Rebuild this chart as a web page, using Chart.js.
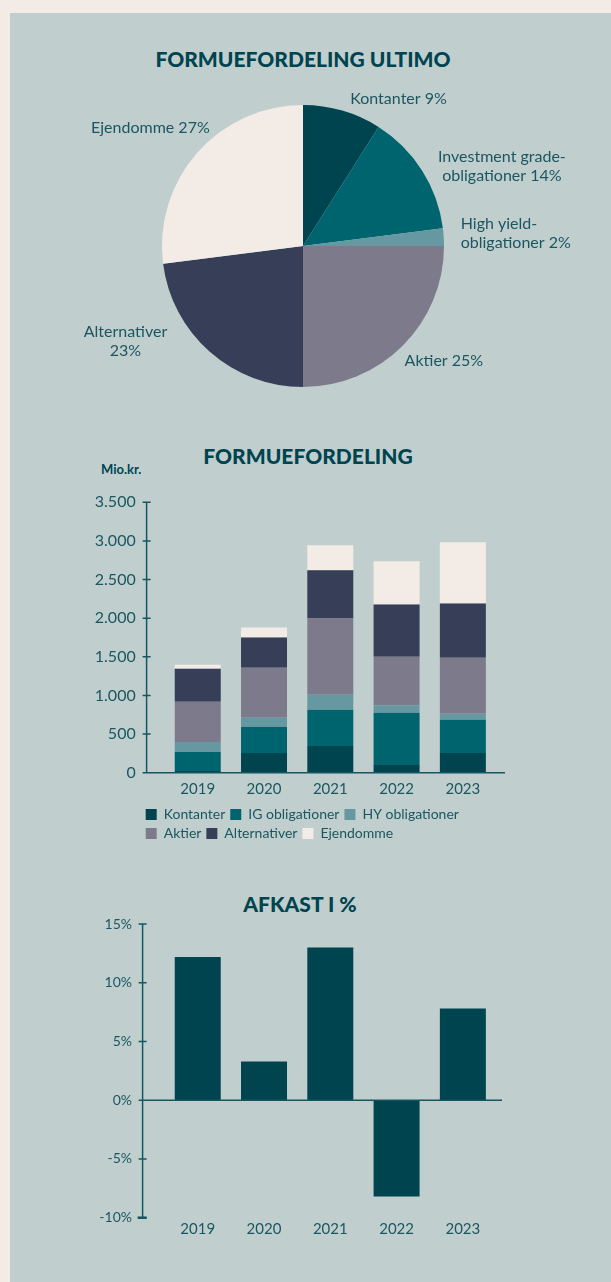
<!DOCTYPE html>
<html lang="da">
<head>
<meta charset="utf-8">
<title>Formuefordeling</title>
<script src="https://cdn.jsdelivr.net/npm/chart.js@4.4.1/dist/chart.umd.min.js"></script>
<style>
  body {
    margin: 0;
    width: 611px;
    height: 1282px;
    overflow: hidden;
    position: relative;
    background: #f3ece6;
    font-family: Lato, sans-serif;
  }
  #panel {
    position: absolute;
    left: 10px;
    top: 13px;
    right: 0;
    bottom: 0;
    background: #c0cfce;
  }
  canvas {
    position: absolute;
    left: 10px;
  }
  .titel {
    position: absolute;
    width: 400px;
    height: 24px;
    line-height: 24px;
    text-align: center;
    color: #004450;
    font-weight: 900;
    font-size: 21px;
  }
  .enhed {
    position: absolute;
    left: 101px;
    top: 461px;
    height: 16px;
    line-height: 16px;
    color: #004450;
    font-weight: 700;
    font-size: 13px;
  }
</style>
</head>
<body>
<div id="panel"></div>

<div class="titel" style="left:103px; top:47px;">FORMUEFORDELING ULTIMO</div>
<canvas id="grafico1" width="601" height="340" style="top:80px;"></canvas>

<div class="titel" style="left:108px; top:444px;">FORMUEFORDELING</div>
<div class="enhed">Mio.kr.</div>
<canvas id="grafico2" width="601" height="380" style="top:480px;"></canvas>

<div class="titel" style="left:100px; top:892px;">AFKAST I %</div>
<canvas id="grafico3" width="601" height="400" style="top:880px;"></canvas>

<script>
// data
const pieLinjer = [
  ["Kontanter"],
  ["Investment grade-", "obligationer"],
  ["High yield-", "obligationer"],
  ["Aktier"],
  ["Alternativer", ""],
  ["Ejendomme"],
];
const pieAndele = [9, 14, 2, 25, 23, 27];

const aar = ["2019", "2020", "2021", "2022", "2023"];
const kontanter = [22, 255, 346, 100, 255];
const igObligationer = [246, 338, 468, 675, 429];
const hyObligationer = [130, 117, 195, 99, 78];
const aktier = [520, 649, 987, 628, 727];
const alternativer = [428, 390, 623, 675, 701];
const ejendomme = [52, 130, 325, 559, 793];
const serieNavne = ["Kontanter", "IG obligationer", "HY obligationer", "Aktier", "Alternativer", "Ejendomme"];

const formueMax = 3500;
const formueStep = 500;

const afkast = [12.2, 3.3, 13.0, -8.2, 7.8];
const afkastMin = -10;
const afkastMax = 15;
const afkastStep = 5;

// farver
const farver = ["#004450", "#00646e", "#6698a2", "#7d7b8b", "#363f57", "#f3ece6"];
const tekstFarve = "#1b5660";
const akseFarve = "#155660";

// etiketter rundt om lagkagen: placering i forhold til midten af hvert stykke
const etiketPlacering = [
  { align: "left", dx: 4, dy: 2 },
  { align: "center", dx: 68, dy: 3 },
  { align: "left", dx: 3, dy: -3 },
  { align: "left", dx: -8, dy: 5 },
  { align: "center", dx: -75, dy: -21 },
  { align: "right", dx: 23, dy: -16 },
];

const pieEtiketter = {
  id: "pieEtiketter",
  afterDraw(chart) {
    const ctx = chart.ctx;
    const meta = chart.getDatasetMeta(0);
    ctx.save();
    ctx.font = "16px Lato";
    ctx.fillStyle = tekstFarve;
    ctx.textBaseline = "middle";
    meta.data.forEach(function (arc, i) {
      const p = arc.getProps(["x", "y", "startAngle", "endAngle", "outerRadius"]);
      const mid = (p.startAngle + p.endAngle) / 2;
      const r = p.outerRadius + 14;
      const pos = etiketPlacering[i];
      const ax = p.x + Math.cos(mid) * r + pos.dx;
      const ay = p.y + Math.sin(mid) * r + pos.dy;
      const linjer = pieLinjer[i].slice();
      const sidste = linjer.length - 1;
      linjer[sidste] = (linjer[sidste] + " " + pieAndele[i] + "%").trim();
      ctx.textAlign = pos.align;
      linjer.forEach(function (l, j) {
        ctx.fillText(l, ax, ay + (j - sidste / 2) * 19);
      });
    });
    ctx.restore();
  },
};

// akser og y-etiketter tegnes selv, lidt til venstre for første søjle
const akserPlugin = {
  id: "akser",
  afterDatasetsDraw(chart, args, opts) {
    const ctx = chart.ctx;
    const y = chart.scales.y;
    const area = chart.chartArea;
    const ax = area.left - opts.gap;
    const y0 = y.getPixelForValue(0);
    const yBund = y.getPixelForValue(y.min);
    ctx.save();
    ctx.strokeStyle = akseFarve;
    ctx.lineWidth = 1.5;
    ctx.beginPath();
    ctx.moveTo(ax, y.getPixelForValue(y.max));
    ctx.lineTo(ax, yBund);
    y.ticks.forEach(function (t) {
      const ty = y.getPixelForValue(t.value);
      ctx.moveTo(ax - 4, ty);
      ctx.lineTo(ax + 4, ty);
    });
    ctx.moveTo(ax - 4, y0);
    ctx.lineTo(area.right + opts.extra, y0);
    ctx.stroke();
    if (opts.bundKant) {
      ctx.lineWidth = 2.5;
      ctx.beginPath();
      ctx.moveTo(ax - 5, yBund);
      ctx.lineTo(ax + 4, yBund);
      ctx.stroke();
    }

    ctx.fillStyle = tekstFarve;
    ctx.font = opts.fontSize + "px Lato";
    ctx.textAlign = "right";
    ctx.textBaseline = "middle";
    y.ticks.forEach(function (t) {
      ctx.fillText(opts.format(t.value), area.left - opts.labelGap, y.getPixelForValue(t.value));
    });
    ctx.restore();
  },
};

function tusind(v) {
  return String(v).replace(/\B(?=(\d{3})+(?!\d))/g, ".");
}

function procent(v) {
  return v + "%";
}

function fastY(bredde) {
  return function (s) {
    s.width = bredde;
    s.paddingTop = 0;
    s.paddingBottom = 0;
  };
}

function fastX(hoejde) {
  return function (s) {
    s.height = hoejde;
    s.paddingLeft = 0;
    s.paddingRight = 0;
  };
}

function lagkage() {
  new Chart(document.getElementById("grafico1"), {
    type: "pie",
    data: {
      labels: pieLinjer.map(function (l) { return l.join(" "); }),
      datasets: [
        {
          data: pieAndele,
          backgroundColor: farver,
          borderWidth: 0,
        },
      ],
    },
    options: {
      responsive: false,
      animation: false,
      layout: { padding: { left: 152, right: 167, top: 25, bottom: 33 } },
      plugins: {
        legend: { display: false },
        tooltip: { enabled: false },
      },
    },
    plugins: [pieEtiketter],
  });
}

function formuefordeling() {
  const serier = [kontanter, igObligationer, hyObligationer, aktier, alternativer, ejendomme];
  const datasets = serier.map(function (d, i) {
    return {
      label: serieNavne[i],
      data: d,
      backgroundColor: farver[i],
      borderWidth: 0,
      barPercentage: 0.694,
      categoryPercentage: 1,
    };
  });

  new Chart(document.getElementById("grafico2"), {
    type: "bar",
    data: { labels: aar, datasets: datasets },
    options: {
      responsive: false,
      animation: false,
      layout: { padding: { left: 130.7, right: 115, top: 22.3, bottom: 9.5 } },
      scales: {
        x: {
          stacked: true,
          grid: { display: false, drawTicks: false },
          border: { display: false },
          ticks: { color: tekstFarve, font: { family: "Lato", size: 15 }, padding: 7 },
          afterFit: fastX(29.8),
        },
        y: {
          stacked: true,
          min: 0,
          max: formueMax,
          grid: { display: false, drawTicks: false },
          border: { display: false },
          ticks: { stepSize: formueStep, display: false },
          afterFit: fastY(23.9),
        },
      },
      plugins: {
        legend: {
          position: "bottom",
          align: "start",
          labels: {
            boxWidth: 11,
            boxHeight: 11,
            padding: 5,
            color: tekstFarve,
            font: { family: "Lato", size: 14 },
          },
        },
        tooltip: { enabled: false },
        akser: { gap: 18, extra: 9, bundKant: false, labelGap: 28.9, fontSize: 16, format: tusind },
      },
    },
    plugins: [akserPlugin],
  });
}

function afkastGraf() {
  new Chart(document.getElementById("grafico3"), {
    type: "bar",
    data: {
      labels: aar,
      datasets: [
        {
          label: "Afkast",
          data: afkast,
          backgroundColor: farver[0],
          borderWidth: 0,
          barPercentage: 0.694,
          categoryPercentage: 1,
        },
      ],
    },
    options: {
      responsive: false,
      animation: false,
      layout: { padding: { left: 100, right: 115, top: 44, bottom: 10 } },
      scales: {
        x: {
          grid: { display: false, drawTicks: false },
          border: { display: false },
          ticks: { color: tekstFarve, font: { family: "Lato", size: 15 }, padding: 2 },
          afterFit: fastX(52.3),
        },
        y: {
          min: afkastMin,
          max: afkastMax,
          grid: { display: false, drawTicks: false },
          border: { display: false },
          ticks: { stepSize: afkastStep, display: false },
          afterFit: fastY(54.6),
        },
      },
      plugins: {
        legend: { display: false },
        tooltip: { enabled: false },
        akser: { gap: 22, extra: 6, bundKant: true, labelGap: 32.6, fontSize: 14, format: procent },
      },
    },
    plugins: [akserPlugin],
  });
}

lagkage();
formuefordeling();
afkastGraf();
</script>
</body>
</html>
